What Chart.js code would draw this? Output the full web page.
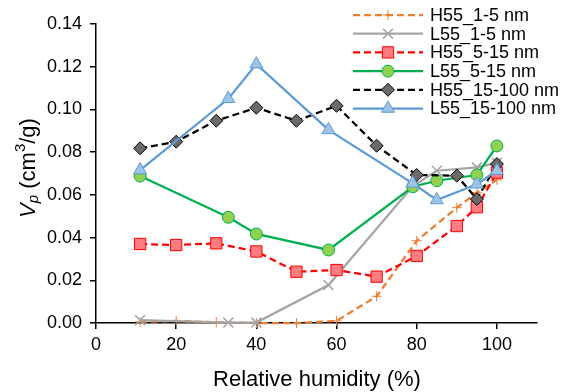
<!DOCTYPE html>
<html>
<head>
<meta charset="utf-8">
<script src="https://cdn.jsdelivr.net/npm/chart.js@4/dist/chart.umd.min.js"></script>
<style>
  body { margin: 0; background: #fff; }
  canvas { display: block; }
</style>
</head>
<body>
<canvas id="vpChart" width="574" height="392"></canvas>
<script>
// Humidity points (%) for the two sample sets
const xH = [11, 20, 30, 40, 50, 60, 70, 80, 90, 95, 100];
const xL = [11, 33, 40, 58, 79, 85, 95, 100];

// Pore volume (cm3/g) per size range
const h55_1_5 = [0.0005, 0.001, 0.0003, 0, 0, 0.001, 0.0125, 0.0385, 0.054, 0.061, 0.067];
const l55_1_5 = [0.0013, 0.0002, 0.0002, 0.0178, 0.064, 0.0713, 0.0729, 0.075];
const h55_5_15 = [0.037, 0.0365, 0.0373, 0.0335, 0.024, 0.0248, 0.0217, 0.0314, 0.0454, 0.0542, 0.0704];
const l55_5_15 = [0.0688, 0.0495, 0.0417, 0.0342, 0.0638, 0.0666, 0.0693, 0.0829];
const h55_15_100 = [0.0818, 0.0849, 0.0947, 0.1008, 0.0947, 0.1017, 0.083, 0.0693, 0.069, 0.058, 0.0744];
const l55_15_100 = [0.0716, 0.105, 0.1212, 0.0904, 0.0654, 0.0576, 0.065, 0.0713];

const seriesNames = ['H55_1-5 nm', 'L55_1-5 nm', 'H55_5-15 nm', 'L55_5-15 nm', 'H55_15-100 nm', 'L55_15-100 nm'];
const xTicks = [0, 20, 40, 60, 80, 100];
const yTicks = [0, 0.02, 0.04, 0.06, 0.08, 0.10, 0.12, 0.14];

const pts = (xs, ys) => xs.map((x, i) => ({ x: x, y: ys[i] }));

const FONT = "'Liberation Sans', Arial, sans-serif";
Chart.defaults.font.family = FONT;
Chart.defaults.color = '#000';

const styles = [
  { color: '#ED7D31', dash: [7, 4], pointStyle: 'cross', radius: 5, fill: '#ED7D31', edge: '#ED7D31', pbw: 1 },
  { color: '#A5A5A5', dash: [], pointStyle: 'crossRot', radius: 7, fill: '#A5A5A5', edge: '#A5A5A5', pbw: 1.5 },
  { color: '#FF0000', dash: [7, 4], pointStyle: 'rect', radius: 8, fill: '#FF7C80', edge: '#FF0000', pbw: 1 },
  { color: '#00B050', dash: [], pointStyle: 'circle', radius: 6, fill: '#92D050', edge: '#00B050', pbw: 1 },
  { color: '#000000', dash: [7, 4], pointStyle: 'rectRot', radius: 6.5, fill: '#6B6B6B', edge: '#000000', pbw: 1 },
  { color: '#5B9BD5', dash: [], pointStyle: 'triangle', radius: 7.5, fill: '#9DC3E6', edge: '#5B9BD5', pbw: 1 }
];
const seriesData = [
  pts(xH, h55_1_5), pts(xL, l55_1_5), pts(xH, h55_5_15),
  pts(xL, l55_5_15), pts(xH, h55_15_100), pts(xL, l55_15_100)
];

const datasets = seriesNames.map((name, i) => ({
  label: name,
  data: seriesData[i],
  order: -i,
  clip: false,
  borderColor: styles[i].color,
  borderWidth: 2.25,
  borderDash: styles[i].dash,
  pointStyle: styles[i].pointStyle,
  pointRadius: styles[i].radius,
  pointHoverRadius: styles[i].radius,
  pointBackgroundColor: styles[i].fill,
  pointBorderColor: styles[i].edge,
  pointBorderWidth: styles[i].pbw,
  tension: 0,
  fill: false
}));

// legend + axis titles drawn by hand
const extras = {
  id: 'extras',
  afterDraw(chart) {
    const ctx = chart.ctx;
    ctx.save();
    // legend
    const rowY = [15, 33.7, 52.4, 71.1, 89.8, 108.5];
    styles.forEach((s, i) => {
      const y = rowY[i];
      ctx.beginPath();
      ctx.setLineDash(s.dash);
      ctx.strokeStyle = s.color;
      ctx.lineWidth = 2.25;
      ctx.moveTo(353, y);
      ctx.lineTo(423, y);
      ctx.stroke();
      ctx.setLineDash([]);
      ctx.fillStyle = s.fill;
      ctx.strokeStyle = s.edge;
      ctx.lineWidth = s.pbw;
      Chart.helpers.drawPoint(ctx, { pointStyle: s.pointStyle, radius: s.radius, rotation: 0, borderWidth: s.pbw }, 388, y);
      ctx.fillStyle = '#000';
      ctx.font = '18px ' + FONT;
      ctx.textAlign = 'left';
      ctx.textBaseline = 'middle';
      ctx.fillText(seriesNames[i], 430, y + 1);
    });

    // x title
    ctx.font = '22px ' + FONT;
    ctx.textAlign = 'center';
    ctx.textBaseline = 'middle';
    ctx.fillText('Relative humidity (%)', 317, 380);

    // y title: V_p (cm^3/g)
    const parts = [
      { t: 'V', f: 'italic 22px ' + FONT, dy: 0 },
      { t: 'p', f: 'italic 15px ' + FONT, dy: 5 },
      { t: ' (cm', f: '22px ' + FONT, dy: 0 },
      { t: '3', f: '15px ' + FONT, dy: -8 },
      { t: '/g)', f: '22px ' + FONT, dy: 0 }
    ];
    let total = 0;
    parts.forEach(p => { ctx.font = p.f; p.w = ctx.measureText(p.t).width; total += p.w; });
    ctx.translate(29, 168);
    ctx.rotate(-Math.PI / 2);
    ctx.textAlign = 'left';
    ctx.textBaseline = 'middle';
    let x = -total / 2;
    parts.forEach(p => { ctx.font = p.f; ctx.fillText(p.t, x, p.dy); x += p.w; });
    ctx.restore();
  }
};

new Chart(document.getElementById('vpChart'), {
  type: 'scatter',
  data: { datasets: datasets },
  options: {
    responsive: false,
    animation: false,
    showLine: true,
    layout: { padding: { left: 0, right: 37, top: 24, bottom: 0 } },
    plugins: { legend: { display: false }, tooltip: { enabled: false } },
    scales: {
      x: {
        type: 'linear',
        min: 0,
        max: 110,
        afterBuildTicks: s => { s.ticks = xTicks.map(v => ({ value: v })); },
        afterFit: s => { s.height = 69; },
        ticks: { font: { size: 18 }, padding: 5, maxRotation: 0, color: '#000' },
        grid: { drawOnChartArea: false, drawTicks: true, tickLength: 6, color: '#000', lineWidth: 1.5 },
        border: { color: '#000', width: 1.5 }
      },
      y: {
        type: 'linear',
        min: 0,
        max: 0.14,
        afterBuildTicks: s => { s.ticks = yTicks.map(v => ({ value: v })); },
        afterFit: s => { s.width = 96; },
        ticks: { font: { size: 18 }, padding: 8, color: '#000', callback: v => v.toFixed(2) },
        grid: { drawOnChartArea: false, drawTicks: true, tickLength: 6, color: '#000', lineWidth: 1.5 },
        border: { color: '#000', width: 1.5 }
      }
    }
  },
  plugins: [extras]
});
</script>
</body>
</html>
